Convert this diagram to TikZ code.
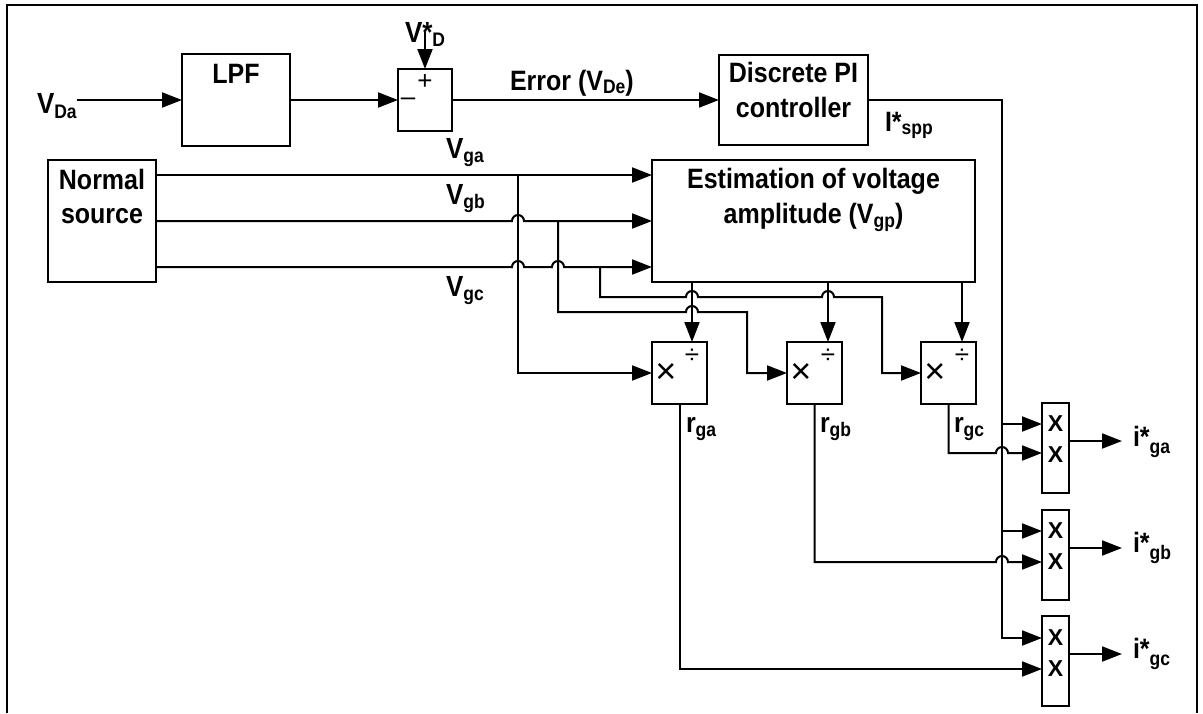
\documentclass[tikz,border=0pt]{standalone}
\usepackage{fontspec}
\usepackage{graphicx}
\setmainfont{Liberation Sans}
\usetikzlibrary{arrows.meta}
\newcommand{\lo}[2][5pt]{\raisebox{-#1}{\fontsize{17.5}{17.5}\selectfont #2}}
\newcommand{\st}[1]{\scalebox{1}[1.12]{#1}}
\begin{document}
\begin{tikzpicture}[x=1pt,y=-1pt,
  every node/.style={inner sep=0pt,outer sep=0pt},
  txt/.style={font=\fontsize{25}{30}\selectfont\bfseries},
  lbl/.style={font=\fontsize{26}{30}\selectfont\bfseries,anchor=base west},
  blk/.style={draw,line width=2.2pt},
  mdbox/.style={blk,minimum width=55pt,minimum height=62pt},
  mbox/.style={blk,minimum width=27pt,minimum height=90pt},
  xs/.style={font=\fontsize{23}{23}\selectfont\bfseries},
  mulsym/.style={font=\fontsize{36}{36}\selectfont},
  divsym/.style={font=\fontsize{26}{26}\selectfont},
  arr/.style={line width=2pt,-{Triangle[length=20pt,width=15pt]}}]
\useasboundingbox (0,0) rectangle (1203,713);
\draw[line width=2.5pt] (7,713) -- (7,5) -- (1197,5) -- (1197,713);

% blocks
\node[blk,minimum width=108pt,minimum height=92pt] (lpf) at (236,100) {};
\node[txt,anchor=base] (lpft) at (236,83) {\st{LPF}};
\node[blk,minimum width=54pt,minimum height=62pt] (sum) at (425,100) {};
\node[font=\fontsize{26}{26}\selectfont] (plus) at (425,82) {+};
\node[font=\fontsize{26}{26}\selectfont] (minus) at (408,102) {–};
\node[blk,minimum width=149pt,minimum height=90pt] (pi) at (793.5,100) {};
\node[txt,anchor=base] (pit1) at (793.5,82) {\st{Discrete PI}};
\node[txt,anchor=base] (pit2) at (793.5,117) {\st{controller}};
\node[blk,minimum width=108pt,minimum height=122pt] (nsrc) at (102,221) {};
\node[txt,anchor=base] (nst1) at (102,189) {\st{Normal}};
\node[txt,anchor=base] (nst2) at (102,223) {\st{source}};
\node[blk,minimum width=323pt,minimum height=122pt] (est) at (813.5,221) {};
\node[txt,anchor=base] (est1) at (813.5,188) {\st{Estimation of voltage}};
\node[txt,anchor=base] (est2) at (813.5,223) {\st{amplitude (V\lo[4pt]{gp})}};

\node[mdbox] (md1) at (679.5,373) {};
\node[mdbox] (md2) at (814.5,373) {};
\node[mdbox] (md3) at (948.5,373) {};
\node[mulsym] (mx1) at (666,373) {×};
\node[mulsym] (mx2) at (801,373) {×};
\node[mulsym] (mx3) at (935,373) {×};
\node[divsym] (dv1) at (692,356) {÷};
\node[divsym] (dv2) at (828,356) {÷};
\node[divsym] (dv3) at (962,356) {÷};

\node[mbox] (mga) at (1055.5,448) {};
\node[mbox] (mgb) at (1055.5,555) {};
\node[mbox] (mgc) at (1055.5,661) {};
\node[xs] (xa1) at (1055.5,424) {X};
\node[xs] (xa2) at (1055.5,455) {X};
\node[xs] (xb1) at (1055.5,531) {X};
\node[xs] (xb2) at (1055.5,562) {X};
\node[xs] (xc1) at (1055.5,638) {X};
\node[xs] (xc2) at (1055.5,669) {X};

% labels
\node[lbl] (vda) at (37,113) {\st{V\lo{Da}}};
\node[lbl] (vdref) at (405,42) {\st{V*\lo[4pt]{D}}};
\node[lbl,font=\fontsize{25}{30}\selectfont\bfseries] (err) at (510,90) {\st{Error (V\lo[3pt]{De})}};
\node[lbl,font=\fontsize{25}{30}\selectfont\bfseries] (ispp) at (885,131) {\st{I*\lo[3pt]{spp}}};
\node[lbl] (vga) at (446,158) {\st{V\lo[4pt]{ga}}};
\node[lbl] (vgb) at (446,204) {\st{V\lo[4pt]{gb}}};
\node[lbl] (vgc) at (446,296) {\st{V\lo[4pt]{gc}}};
\node[lbl,font=\fontsize{25}{30}\selectfont\bfseries] (rga) at (686,432) {\st{r\lo[4pt]{ga}}};
\node[lbl,font=\fontsize{25}{30}\selectfont\bfseries] (rgb) at (820,432) {\st{r\lo[4pt]{gb}}};
\node[lbl,font=\fontsize{25}{30}\selectfont\bfseries] (rgc) at (954,432) {\st{r\lo[4pt]{gc}}};
\node[lbl,font=\fontsize{25}{30}\selectfont\bfseries] (iga) at (1133,446) {\st{i*\lo[7pt]{ga}}};
\node[lbl,font=\fontsize{25}{30}\selectfont\bfseries] (igb) at (1133,552) {\st{i*\lo[7pt]{gb}}};
\node[lbl,font=\fontsize{25}{30}\selectfont\bfseries] (igc) at (1133,658) {\st{i*\lo[7pt]{gc}}};

\coordinate (vdin) at (425,32);
\coordinate (oga) at (1122,441);
\coordinate (ogb) at (1122,548);
\coordinate (ogc) at (1122,654);

% top chain
\draw[arr] (vda.east |- lpf.west) -- (lpf.west);
\draw[arr] (lpf.east) -- (sum.west);
\draw[arr] (vdin) -- (sum.north);
\draw[arr] (sum.east) -- (pi.west);
\draw[arr] (pi.east) -- (1002,100) -- (1002,638) -- (mgc.west |- 0,638);
\draw[arr] (1002,424) -- (mga.west |- 0,424);
\draw[arr] (1002,531) -- (mgb.west |- 0,531);

% source lines
\draw[arr] (nsrc.east |- 0,175) -- (est.west |- 0,175);
\draw[arr] (nsrc.east |- 0,221) -- (512,221) arc[start angle=180,end angle=0,radius=6pt] -- (est.west |- 0,221);
\draw[arr] (nsrc.east |- 0,267) -- (512,267) arc[start angle=180,end angle=0,radius=6pt]
  -- (552,267) arc[start angle=180,end angle=0,radius=6pt] -- (est.west |- 0,267);

% branches
\draw[arr] (518,175) -- (518,373) -- (md1.west |- 0,373);
\draw[arr] (558,221) -- (558,312) -- (686,312) arc[start angle=180,end angle=0,radius=6pt]
  -- (747,312) -- (747,373) -- (md2.west |- 0,373);
\draw[arr] (600,267) -- (600,297) -- (686,297) arc[start angle=180,end angle=0,radius=6pt]
  -- (822,297) arc[start angle=180,end angle=0,radius=6pt] -- (882,297) -- (882,373) -- (md3.west |- 0,373);

% estimation outputs
\draw[arr] (692,0 |- est.south) -- (692,0 |- md1.north);
\draw[arr] (828,0 |- est.south) -- (828,0 |- md2.north);
\draw[arr] (962,0 |- est.south) -- (962,0 |- md3.north);

% r outputs
\draw[arr] (md1.south) -- (md1.south |- 0,669) -- (mgc.west |- 0,669);
\draw[arr] (md2.south) -- (md2.south |- 0,562) -- (996,562) arc[start angle=180,end angle=0,radius=6pt] -- (mgb.west |- 0,562);
\draw[arr] (md3.south) -- (md3.south |- 0,453) -- (996,453) arc[start angle=180,end angle=0,radius=6pt] -- (mga.west |- 0,453);

% outputs
\draw[arr] (mga.east |- oga) -- (oga);
\draw[arr] (mgb.east |- ogb) -- (ogb);
\draw[arr] (mgc.east |- ogc) -- (ogc);
\end{tikzpicture}
\end{document}
